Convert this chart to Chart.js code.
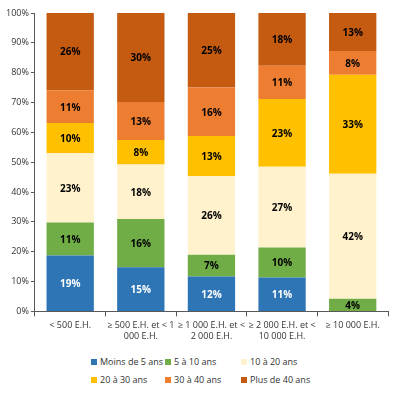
<!DOCTYPE html>
<html>
<head>
<meta charset="utf-8">
<script src="https://cdn.jsdelivr.net/npm/chart.js@4"></script>
<style>
	body { margin: 0; background: #fff; }
	#wrap { position: relative; width: 400px; height: 395px; }
	#legend { position: absolute; left: 0; top: 355px; width: 400px; font: 9px "Open Sans", sans-serif; color: #333; }
	.item { position: absolute; white-space: nowrap; }
	.item span.box { display: inline-block; width: 6px; height: 6px; margin-right: 3px; vertical-align: 0px; }
</style>
</head>
<body>
<div id="wrap">
	<canvas id="chart" width="400" height="350"></canvas>
	<div id="legend"></div>
</div>
<script>
// catégories (lignes de label pour l'axe x)
const categories = [
	['< 500 E.H.'],
	['≥ 500 E.H. et < 1', '000 E.H.'],
	['≥ 1 000 E.H. et <', '2 000 E.H.'],
	['≥ 2 000 E.H. et <', '10 000 E.H.'],
	['≥ 10 000 E.H.']
];
const seriesNames = ['Moins de 5 ans', '5 à 10 ans', '10 à 20 ans', '20 à 30 ans', '30 à 40 ans', 'Plus de 40 ans'];
const moins5 = [18.7, 14.8, 11.7, 11.4, 0];
const de5a10 = [11.1, 16.2, 7.3, 10.0, 4.2];
const de10a20 = [23.3, 18.2, 26.4, 27.1, 41.9];
const de20a30 = [10.0, 8.2, 13.4, 22.7, 33.2];
const de30a40 = [11.0, 12.8, 16.2, 11.1, 8.0];
const plus40 = [25.9, 29.8, 25.0, 17.7, 12.7];
const yTicks = [0, 10, 20, 30, 40, 50, 60, 70, 80, 90, 100];

const colors = ['#2E75B6', '#70AD47', '#FFF2CC', '#FFC000', '#ED7D31', '#C55A11'];
const labelColors = ['#fff', '#000', '#000', '#000', '#000', '#000'];
const allSeries = [moins5, de5a10, de10a20, de20a30, de30a40, plus40];

const datasets = allSeries.map((vals, i) => ({
	label: seriesNames[i],
	data: vals,
	backgroundColor: colors[i],
	categoryPercentage: 1,
	barPercentage: 0.67
}));

// étiquettes de valeur au centre de chaque segment
const valueLabels = {
	id: 'valueLabels',
	afterDatasetsDraw(chart)
	{
		const ctx = chart.ctx;
		ctx.save();
		ctx.font = 'bold 10px "Open Sans", sans-serif';
		ctx.textAlign = 'center';
		ctx.textBaseline = 'middle';
		chart.data.datasets.forEach((ds, i) => {
			const meta = chart.getDatasetMeta(i);
			meta.data.forEach((bar, j) => {
				const v = ds.data[j];
				if (!v) return;
				const p = bar.getProps(['x', 'y', 'base'], true);
				ctx.fillStyle = labelColors[i];
				ctx.fillText(Math.round(v) + '%', p.x, (p.y + p.base) / 2 + 1);
			});
		});
		ctx.restore();
	}
};

new Chart(document.getElementById('chart').getContext('2d'), {
	type: 'bar',
	data: { labels: categories, datasets: datasets },
	options: {
		responsive: false,
		animation: false,
		layout: { padding: { left: 4, right: 12, top: 13, bottom: 4 } },
		plugins: { legend: { display: false }, tooltip: { enabled: false } },
		scales: {
			x: {
				stacked: true,
				border: { color: '#595959', width: 1 },
				grid: { offset: true, drawOnChartArea: false, tickLength: 5, color: '#595959' },
				ticks: { color: '#333', font: { size: 9, family: '"Open Sans", sans-serif' }, maxRotation: 0, autoSkip: false, padding: 4 }
			},
			y: {
				stacked: true,
				min: 0,
				max: 100,
				afterBuildTicks: axis => { axis.ticks = yTicks.map(v => ({ value: v })); },
				border: { color: '#595959', width: 1 },
				grid: { drawOnChartArea: false, tickLength: 4, color: '#595959' },
				ticks: { color: '#333', font: { size: 9, family: '"Open Sans", sans-serif' }, padding: 2, callback: v => v + '%' }
			}
		}
	},
	plugins: [valueLabels]
});

// légende en 3 colonnes comme dans l'original
const legend = document.getElementById('legend');
const colX = [91, 165, 241];
seriesNames.forEach((name, i) => {
	const d = document.createElement('div');
	d.className = 'item';
	d.style.left = colX[i % 3] + 'px';
	d.style.top = (Math.floor(i / 3) * 18) + 'px';
	d.innerHTML = '<span class="box" style="background:' + colors[i] + '"></span>' + name;
	legend.appendChild(d);
});
</script>
</body>
</html>
